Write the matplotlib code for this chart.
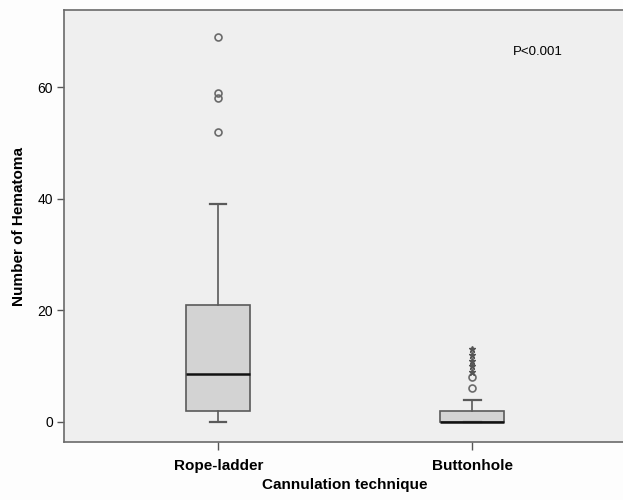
import matplotlib
matplotlib.use("Agg")
import matplotlib.pyplot as plt

plt.rcParams['font.family'] = ['Liberation Sans', 'DejaVu Sans']

# Data
categories = ["Rope-ladder", "Buttonhole"]
q1 = [2, 0]
median = [8.5, 0]
q3 = [21, 2]
whisker_low = [0, 0]
whisker_high = [39, 4]
outliers = [[52, 58, 59, 69], [6, 8]]
extremes = [[], [9, 10, 11, 12, 13]]

fig = plt.figure(figsize=(6.23, 5.0), dpi=100)
fig.patch.set_facecolor('#fdfdfd')
ax = fig.add_axes([0.1027, 0.116, 0.90, 0.864])
ax.set_facecolor('#efefef')

stats = []
for i, name in enumerate(categories):
    stats.append(dict(label=name, q1=q1[i], med=median[i], q3=q3[i],
                      whislo=whisker_low[i], whishi=whisker_high[i],
                      fliers=outliers[i]))

positions = [1, 2]
ax.bxp(stats, positions=positions, widths=0.25, patch_artist=True,
       boxprops=dict(facecolor='#d3d3d3', edgecolor='#5a5a5a', linewidth=1.2),
       medianprops=dict(color='#111111', linewidth=1.8),
       whiskerprops=dict(color='#5a5a5a', linewidth=1.2),
       capprops=dict(color='#5a5a5a', linewidth=1.6),
       capwidths=0.065,
       flierprops=dict(marker='o', markersize=5, markerfacecolor='none',
                       markeredgecolor='#6a6a6a', markeredgewidth=1.2))

for pos, ext in zip(positions, extremes):
    if ext:
        ax.plot([pos] * len(ext), ext, linestyle='none', marker='*',
                markersize=4.5, color='#555555')

ax.set_xlim(0.393, 2.60)
ax.set_ylim(-3.6, 73.8)
ax.set_yticks([0, 20, 40, 60])
ax.set_xticks(positions)
ax.set_xticklabels(categories, fontsize=11, fontweight='bold')
ax.tick_params(axis='y', labelsize=10, length=5, color='#555555', width=1, pad=3)
ax.tick_params(axis='x', length=6, color='#555555', width=1, pad=6)

for side in ['left', 'bottom', 'top']:
    ax.spines[side].set_color('#6a6a6a')
    ax.spines[side].set_linewidth(1.2)
ax.spines['right'].set_visible(False)

ax.set_ylabel("Number of Hematoma", fontsize=11, fontweight='bold', labelpad=8)
ax.set_xlabel("Cannulation technique", fontsize=11, fontweight='bold', labelpad=4)

ax.text(2.16, 66.3, "P<0.001", fontsize=9.5, va='center', ha='left')

fig.savefig("out.png", dpi=100, facecolor=fig.get_facecolor())
